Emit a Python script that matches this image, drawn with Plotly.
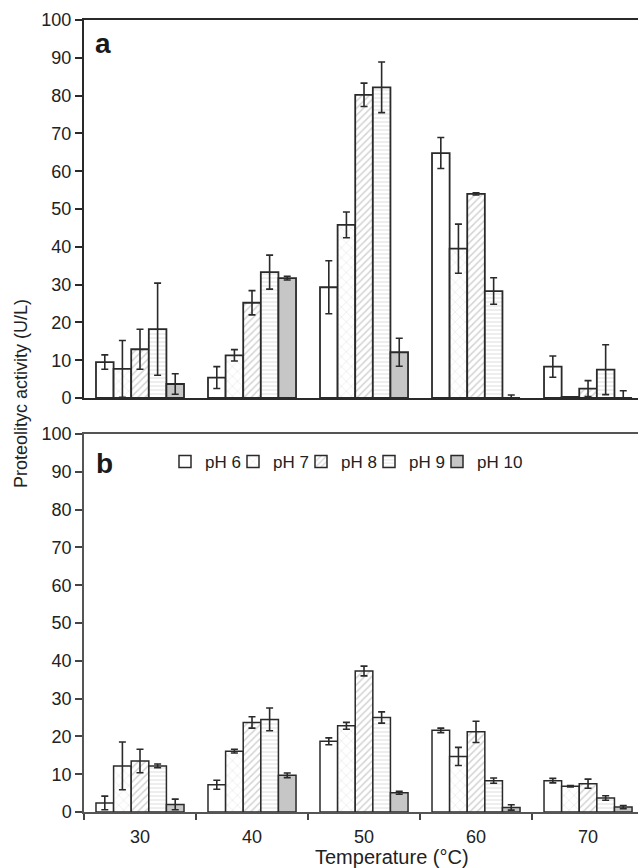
import plotly.graph_objects as go

temps = ["30", "40", "50", "60", "70"]
ph_labels = ["pH 6", "pH 7", "pH 8", "pH 9", "pH 10"]

# Panel a values and errors
a_ph6 = [9.5, 5.4, 29.3, 64.8, 8.3]
a_ph6_err = [1.9, 2.9, 7.0, 4.1, 2.8]
a_ph7 = [7.7, 11.3, 45.8, 39.5, 0.3]
a_ph7_err = [7.5, 1.5, 3.4, 6.5, 0.0]
a_ph8 = [12.9, 25.2, 80.2, 54.0, 2.5]
a_ph8_err = [5.3, 3.2, 3.1, 0.3, 2.1]
a_ph9 = [18.2, 33.3, 82.2, 28.3, 7.5]
a_ph9_err = [12.2, 4.5, 6.7, 3.5, 6.6]
a_ph10 = [3.7, 31.7, 12.1, 0.0, 0.0]
a_ph10_err = [2.7, 0.5, 3.7, 0.8, 1.9]

# Panel b values and errors
b_ph6 = [2.4, 7.2, 18.7, 21.6, 8.3]
b_ph6_err = [1.8, 1.2, 0.9, 0.6, 0.6]
b_ph7 = [12.2, 16.1, 22.8, 14.7, 6.8]
b_ph7_err = [6.3, 0.5, 0.9, 2.4, 0.2]
b_ph8 = [13.5, 23.7, 37.3, 21.2, 7.5]
b_ph8_err = [3.1, 1.5, 1.3, 2.8, 1.2]
b_ph9 = [12.2, 24.5, 25.0, 8.3, 3.7]
b_ph9_err = [0.5, 3.0, 1.5, 0.7, 0.6]
b_ph10 = [2.0, 9.7, 5.1, 1.2, 1.3]
b_ph10_err = [1.4, 0.6, 0.4, 0.7, 0.4]

a_vals = [a_ph6, a_ph7, a_ph8, a_ph9, a_ph10]
a_errs = [a_ph6_err, a_ph7_err, a_ph8_err, a_ph9_err, a_ph10_err]
b_vals = [b_ph6, b_ph7, b_ph8, b_ph9, b_ph10]
b_errs = [b_ph6_err, b_ph7_err, b_ph8_err, b_ph9_err, b_ph10_err]

FONT = "Liberation Sans, Arial, sans-serif"
DARK = "#2a2a2a"

styles = [
    dict(color="white", pattern=dict(shape="")),
    dict(color="white", pattern=dict(shape="x", fgcolor="#c4c4c4", bgcolor="white", size=7, solidity=0.15)),
    dict(color="white", pattern=dict(shape="/", fgcolor="#a8a8a8", bgcolor="white", size=5, solidity=0.3)),
    dict(color="white", pattern=dict(shape="-", fgcolor="#cfcfcf", bgcolor="white", size=4, solidity=0.35)),
    dict(color="#c6c6c6", pattern=dict(shape="")),
]
legend_widths = [23, 23, 23, 23, 50]

fig = go.Figure()
for i, name in enumerate(ph_labels):
    st = styles[i]
    for vals, errs, xa, ya, lw, show in [
        (a_vals, a_errs, "x", "y", 1.8, False),
        (b_vals, b_errs, "x2", "y2", 1.5, True),
    ]:
        fig.add_trace(go.Bar(
            x=temps, y=vals[i], name=name, legendgroup=name, showlegend=show,
            legendwidth=legend_widths[i],
            xaxis=xa, yaxis=ya,
            marker=dict(color=st["color"], pattern=st["pattern"],
                        line=dict(color=DARK, width=lw)),
            error_y=dict(type="data", array=errs[i], visible=True,
                         color=DARK, thickness=1.6, width=3.5),
        ))

W, H = 638, 868
L, R, T, B = 84, 0, 20, 56
pw = W - L - R
ph = H - T - B

def px_x(p):
    return (p - L) / pw

def px_y(p):
    return (H - B - p) / ph

tickfont = dict(family=FONT, size=18, color="#222")

fig.update_layout(
    width=W, height=H,
    margin=dict(l=L, r=R, t=T, b=B, pad=0),
    paper_bgcolor="white", plot_bgcolor="white",
    barmode="group", bargap=0.214, bargroupgap=0,
    font=dict(family=FONT, size=17, color="#222"),
    showlegend=True,
    legend=dict(orientation="h", x=px_x(165), xanchor="left",
                y=px_y(462), yanchor="middle",
                font=dict(family=FONT, size=17, color="#222"),
                itemwidth=30, bgcolor="rgba(0,0,0,0)", traceorder="normal"),
    xaxis=dict(type="category", domain=[0, 1], range=[-0.5, 4.446],
               anchor="y", showline=True, mirror=True, linecolor=DARK,
               linewidth=2, ticks="", showticklabels=False, showgrid=False,
               zeroline=False),
    yaxis=dict(domain=[px_y(398), 1], range=[0, 100], dtick=10,
               anchor="x", showline=True, linecolor=DARK, linewidth=2,
               ticks="outside", ticklen=7, tickwidth=1.5, tickcolor=DARK,
               tickfont=tickfont, showgrid=False, zeroline=False),
    xaxis2=dict(type="category", domain=[0, 1], range=[-0.5, 4.446],
                anchor="y2", showline=True, mirror=True, linecolor="#555",
                linewidth=1.5, ticks="outside", tickson="boundaries",
                ticklen=6, tickwidth=1.5, tickcolor="#444",
                ticklabelstandoff=8,
                tickfont=tickfont, showgrid=False, zeroline=False),
    yaxis2=dict(domain=[0, px_y(434)], range=[0, 100], dtick=10,
                anchor="x2", showline=True, linecolor="#555", linewidth=1.5,
                ticks="outside", ticklen=7, tickwidth=1.5, tickcolor="#444",
                tickfont=tickfont, showgrid=False, zeroline=False),
    annotations=[
        dict(text="<b>a</b>", x=px_x(103), y=px_y(43), xref="paper", yref="paper",
             showarrow=False, xanchor="center", yanchor="middle",
             font=dict(family=FONT, size=28, color="#1a1a1a")),
        dict(text="<b>b</b>", x=px_x(104), y=px_y(463), xref="paper", yref="paper",
             showarrow=False, xanchor="center", yanchor="middle",
             font=dict(family=FONT, size=28, color="#1a1a1a")),
        dict(text="Proteolityc activity (U/L)", x=px_x(21), y=px_y(394),
             xref="paper", yref="paper", showarrow=False, textangle=-90,
             xanchor="center", yanchor="middle",
             font=dict(family=FONT, size=18, color="#222")),
        dict(text="Temperature (°C)", x=px_x(392), y=px_y(857),
             xref="paper", yref="paper", showarrow=False,
             xanchor="center", yanchor="middle",
             font=dict(family=FONT, size=20, color="#222")),
    ],
)

fig.write_html("out.html")
